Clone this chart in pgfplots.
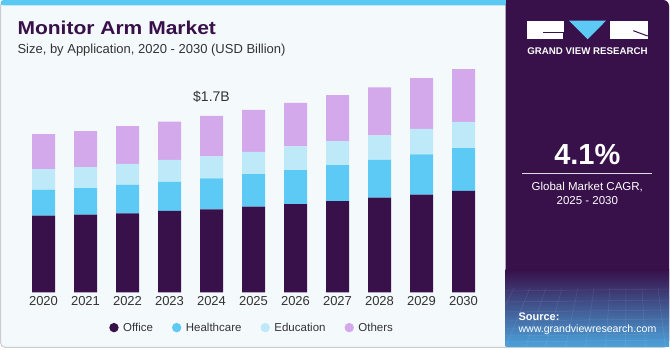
\documentclass[border=0pt]{standalone}
\usepackage{pgfplots}
\pgfplotsset{compat=1.18}
\usepackage{graphicx}
\usepackage{fontspec}
\setmainfont{Liberation Sans}
\definecolor{officec}{HTML}{38104A}
\definecolor{hcc}{HTML}{5DCAF5}
\definecolor{educ}{HTML}{BDE9F9}
\definecolor{othc}{HTML}{D4A9EC}
\definecolor{panelc}{HTML}{38104A}
\definecolor{bgc}{HTML}{F4F9FC}
\definecolor{topc}{HTML}{5BC8F2}
\definecolor{txtc}{HTML}{333333}
\definecolor{blu}{HTML}{4BA3DC}
\definecolor{brd}{HTML}{CCCCCC}
\begin{document}
\begin{tikzpicture}[x=1pt,y=1pt]
\path[use as bounding box, fill=white] (0,0) rectangle (670,350);
% card
\draw[brd, fill=bgc, rounded corners=5pt, line width=1pt] (0.5,2.5) rectangle (668.5,349.5);
% top cyan bar
\fill[topc, rounded corners=3pt] (0.5,344.7) rectangle (510,350);
\fill[topc] (0.5,344.7) rectangle (510,347);
% dark panel
\fill[panelc, rounded corners=6pt] (505.5,3) rectangle (669,350);
\fill[panelc] (505.5,3) rectangle (600,350);
\fill[panelc] (505.5,3) rectangle (669,300);
\shade[top color=panelc, bottom color=blu] (505.5,3) rectangle (669,80);
% faint grid texture
\begin{scope}
\clip (505.5,3) rectangle (669,62);
\foreach \yy in {8,14,21,29,38,48,59} {\draw[white, opacity=0.10, line width=0.5pt] (505.5,\yy) -- (669,\yy+2);}
\foreach \xx in {-40,-20,0,20,40,60,80,100,120,140,160,180,200} {\draw[white, opacity=0.10, line width=0.5pt] (505.5+\xx,3) -- (530+\xx*0.8,62);}
\end{scope}
% logo
\fill[white] (526.7,310.7) rectangle (564.3,329.3);
\fill[hcc] (569,329.3) -- (606,329.3) -- (587.7,310.7) -- cycle;
\fill[white] (610,310.7) rectangle (647.7,329.3);
\draw[panelc, line width=1pt] (543.3,317.7) -- (563,317.7) -- (563,310.7);
\draw[panelc, line width=1pt] (633.3,319.3) -- (647.7,314);
\node[text=white, font=\bfseries\fontsize{9.7}{11}\selectfont] at (587.5,299) {GRAND VIEW RESEARCH};
% CAGR
\node[text=white, font=\bfseries\fontsize{29}{32}\selectfont] at (587.3,195) {4.1\%};
\draw[white!85!panelc, line width=0.8pt] (522,176.7) -- (652.3,176.7);
\node[text=white, font=\fontsize{11.5}{13}\selectfont] at (587.3,163.3) {Global Market CAGR,};
\node[text=white, font=\fontsize{11.5}{13}\selectfont] at (587.3,149.3) {2025 - 2030};
% source
\node[text=white, anchor=west, inner sep=0pt, font=\bfseries\fontsize{11}{12}\selectfont] at (518.3,33.3) {Source:};
\node[text=white, anchor=west, inner sep=0pt, font=\fontsize{10.6}{12}\selectfont] at (518.3,20) {www.grandviewresearch.com};
% titles
\node[anchor=base west, inner sep=0pt, text=officec, font=\bfseries\fontsize{18.6}{20}\selectfont] at (17.3,315) {\scalebox{1.13}[1]{Monitor Arm Market}};
\node[anchor=base west, inner sep=0pt, text=txtc, font=\fontsize{13}{15}\selectfont] at (17.3,296.7) {Size, by Application, 2020 - 2030 (USD Billion)};
\begin{axis}[
  at={(22.5pt,57.7pt)}, anchor=south west,
  scale only axis, width=462pt, height=232.3pt,
  xmin=-0.5, xmax=10.5, ymin=0, ymax=2.24,
  ybar stacked, bar width=23pt,
  axis line style={draw=none},
  ytick=\empty,
  xtick={0,1,2,3,4,5,6,7,8,9,10},
  xticklabels={2020,2021,2022,2023,2024,2025,2026,2027,2028,2029,2030},
  major tick length=0pt,
  xticklabel style={font=\fontsize{13}{15}\selectfont, text=txtc, anchor=center, yshift=-9pt},
  legend columns=4,
  legend style={draw=none, fill=none, at={(0.497,-0.152)}, anchor=center,
    font=\fontsize{11.5}{13}\selectfont, text=txtc,
    /tikz/every odd column/.append style={column sep=2.5pt},
    /tikz/every even column/.append style={column sep=17pt}},
  clip=false,
]
\addplot[fill=officec, draw=none, legend image code/.code={\fill[officec] (0pt,0pt) circle (4.7pt);}] coordinates {(0,0.739) (1,0.748) (2,0.762) (3,0.784) (4,0.800) (5,0.825) (6,0.851) (7,0.880) (8,0.912) (9,0.941) (10,0.977)};
\addlegendentry{Office}
\addplot[fill=hcc, draw=none, legend image code/.code={\fill[hcc] (0pt,0pt) circle (4.7pt);}] coordinates {(0,0.248) (1,0.257) (2,0.273) (3,0.280) (4,0.299) (5,0.315) (6,0.328) (7,0.347) (8,0.364) (9,0.390) (10,0.412)};
\addlegendentry{Healthcare}
\addplot[fill=educ, draw=none, legend image code/.code={\fill[educ] (0pt,0pt) circle (4.7pt);}] coordinates {(0,0.200) (1,0.203) (2,0.203) (3,0.212) (4,0.212) (5,0.215) (6,0.229) (7,0.231) (8,0.238) (9,0.244) (10,0.254)};
\addlegendentry{Education}
\addplot[fill=othc, draw=none, legend image code/.code={\fill[othc] (0pt,0pt) circle (4.7pt);}] coordinates {(0,0.338) (1,0.347) (2,0.364) (3,0.369) (4,0.389) (5,0.405) (6,0.418) (7,0.444) (8,0.463) (9,0.489) (10,0.508)};
\addlegendentry{Others}
\node[text=txtc, font=\fontsize{14}{16}\selectfont] at (axis cs:4,1.70) [yshift=18.7pt] {\$1.7B};
\end{axis}
\end{tikzpicture}
\end{document}
